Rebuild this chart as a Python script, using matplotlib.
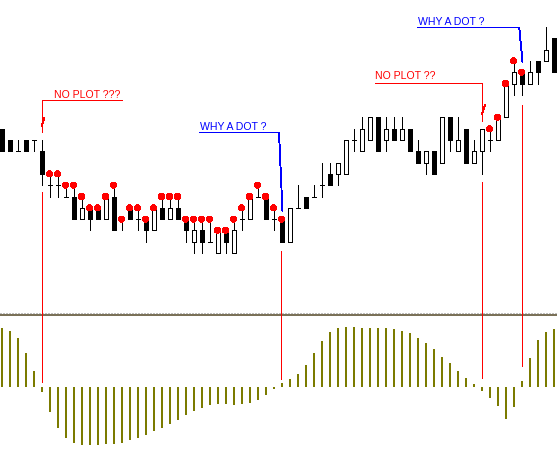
import matplotlib
matplotlib.use("Agg")
import matplotlib.pyplot as plt

# price in ticks (one tick = one grid step of the chart)
opens = [11, 10, 9, 10, 10, 9, 6, 6, 5, 5, 3, 4, 4, 3, 5, 3, 4, 3, 3, 2,
         4, 3, 4, 3, 1, 2, 1, 0, 2, 0, 3, 3, 5, 5, 3, 3, 1, 4, 5, 5,
         6, 7, 7, 7, 10, 9, 10, 12, 10, 11, 10, 11, 9, 8, 9, 8, 12, 9, 11, 8,
         9, 10, 10, 12, 15, 16, 15, 17, 17, 19]
highs = [11, 10, 10, 10, 10, 10, 7, 7, 6, 6, 5, 4, 4, 5, 6, 3, 4, 4, 3, 4,
         5, 5, 5, 3, 3, 3, 3, 2, 2, 3, 4, 5, 6, 5, 4, 3, 4, 6, 5, 6,
         8, 8, 8, 10, 11, 12, 12, 12, 12, 12, 12, 11, 10, 9, 9, 12, 12, 12, 11, 10,
         11, 11, 12, 15, 17, 16, 17, 17, 20, 19]
lows = [9, 9, 9, 9, 9, 6, 5, 5, 5, 3, 3, 2, 3, 3, 2, 2, 3, 2, 1, 2,
        3, 3, 3, 1, 0, 0, 1, 0, 0, 0, 2, 3, 5, 3, 2, 1, 1, 4, 4, 5,
        5, 6, 6, 7, 9, 9, 10, 9, 9, 10, 10, 9, 8, 7, 7, 8, 9, 9, 8, 8,
        7, 9, 10, 12, 14, 14, 15, 15, 17, 16]
closes = [9, 9, 9, 9, 10, 7, 6, 6, 5, 3, 4, 3, 3, 5, 2, 3, 3, 3, 2, 4,
          3, 4, 3, 2, 2, 1, 1, 2, 1, 2, 3, 5, 5, 3, 3, 1, 4, 4, 4, 5,
          6, 6, 8, 10, 10, 11, 12, 9, 11, 10, 11, 9, 8, 9, 7, 12, 10, 10, 8, 9,
          11, 10, 12, 15, 16, 15, 16, 16, 18, 16]

# oscillator histogram
osc = [59, 56, 49, 34, 16, -5, -25, -41, -51, -56, -58, -58, -58, -57, -57, -56, -53, -51, -48, -44,
       -41, -37, -33, -28, -24, -21, -18, -17, -17, -18, -17, -16, -13, -8, -2, 4, 8, 13, 22, 34,
       46, 55, 59, 60, 60, 59, 59, 59, 59, 58, 56, 54, 49, 44, 38, 30, 24, 16, 9, 3,
       -4, -11, -19, -32, -20, 6, 29, 47, 55, 58]

# bars that got a red dot on their high
dot_bars = [6, 7, 8, 9, 10, 11, 12, 13, 14, 15, 16, 17, 18, 19, 20, 21, 22, 23, 24, 25,
            26, 27, 28, 29, 30, 31, 32, 33, 34, 35, 61, 62, 63, 64, 65]

plt.rcParams['lines.antialiased'] = False
plt.rcParams['patch.antialiased'] = False

W, H = 557, 452
px = 72 / 100  # one pixel in points
lw1 = 0.95 * px

fig = plt.figure(figsize=(W / 100, H / 100), dpi=100)
fig.patch.set_facecolor('white')

# price panel: bar i centred on pixel column 1 + 8 i, tick k at row 254 - 11.3 k
ax = fig.add_axes([0, 1 - 313 / H, 1, 313 / H])
ax.set_xlim(-1.5 / 8, 555.5 / 8)
ax.set_ylim((254 - 313) / 11.3, 254 / 11.3)
ax.axis('off')

# oscillator panel: zero at pixel row 388
axh = fig.add_axes([0, 0, 1, (H - 316) / H])
axh.set_xlim(-1.5 / 8, 555.5 / 8)
axh.set_ylim(-64, 72)
axh.axis('off')

n = len(opens)
xs = list(range(n))

# candles
ax.vlines(xs, lows, highs, color='black', lw=lw1, zorder=1)
body_x, body_b, body_h, body_c = [], [], [], []
for i in xs:
    o, c = opens[i], closes[i]
    if o == c:
        ax.hlines(o, i - 0.25, i + 0.25, color='black', lw=lw1, zorder=2)
    else:
        body_x.append(i)
        body_b.append(min(o, c))
        body_h.append(abs(c - o))
        body_c.append('white' if c > o else 'black')
ax.bar(body_x, body_h, bottom=body_b, width=0.5, color=body_c,
       edgecolor='black', linewidth=lw1, zorder=2)

# red dots
ax.scatter(dot_bars, [highs[i] for i in dot_bars], s=19, color='#ff0000',
           edgecolors='none', zorder=3)

# histogram
axh.bar(xs, osc, width=0.25, color='#7b7b00', linewidth=0)

# panel separator
fig.add_artist(plt.Line2D([0, 1], [1 - 313.5 / H] * 2, transform=fig.transFigure,
                          color='#c0c0c0', lw=lw1, ls=(0, (1.5, 1.5))))
fig.add_artist(plt.Line2D([0, 1], [1 - 315.8 / H] * 2, transform=fig.transFigure,
                          color='#7a7158', lw=2 * px))

# drawn objects on the chart
red = '#ff0000'
blue = '#0000ff'
font = dict(family=['Liberation Sans', 'DejaVu Sans'], fontsize=7.6, va='baseline', ha='left')

# "NO PLOT ???" marker
ax.plot([15.06, 5, 5], [13.50, 13.50, 10.68], color=red, lw=lw1)
ax.plot([5.03, 5.35], [11.27, 11.92], color=red, lw=lw1)
ax.text(6.56, 13.8, 'NO PLOT ???', color=red, **font)

# "NO PLOT ??" marker
ax.plot([46.69, 60, 60], [15.02, 15.02, 11.71], color=red, lw=lw1)
ax.plot([60.06, 60.44], [12.30, 13.10], color=red, lw=lw1)
ax.text(46.69, 15.49, 'NO PLOT ??', color=red, **font)

# "WHY A DOT ?" markers
ax.plot([24.81, 34.69, 35.12], [10.66, 10.66, 3.72], color=blue, lw=0.9 * px)
ax.text(24.81, 10.97, 'WHY A DOT ?', color=blue, **font)
ax.plot([52.06, 64.72, 65.12], [19.96, 19.96, 16.93], color=blue, lw=0.9 * px)
ax.text(52.06, 20.27, 'WHY A DOT ?', color=blue, **font)

# red verticals from price panel down to the oscillator
v_bar = [5, 34.875, 60, 65]
v_top = [5.40, 0.18, 6.31, 13.12]
v_end = [5, 8, 9, 21]
to_fig = fig.transFigure.inverted()
for b, t, e in zip(v_bar, v_top, v_end):
    x0, y0 = to_fig.transform(ax.transData.transform((b, t)))
    x1, y1 = to_fig.transform(axh.transData.transform((b, e)))
    fig.add_artist(plt.Line2D([x0, x1], [y0, y1], transform=fig.transFigure,
                              color=red, lw=lw1, zorder=5))

fig.savefig('out.png', dpi=100, facecolor='white')
